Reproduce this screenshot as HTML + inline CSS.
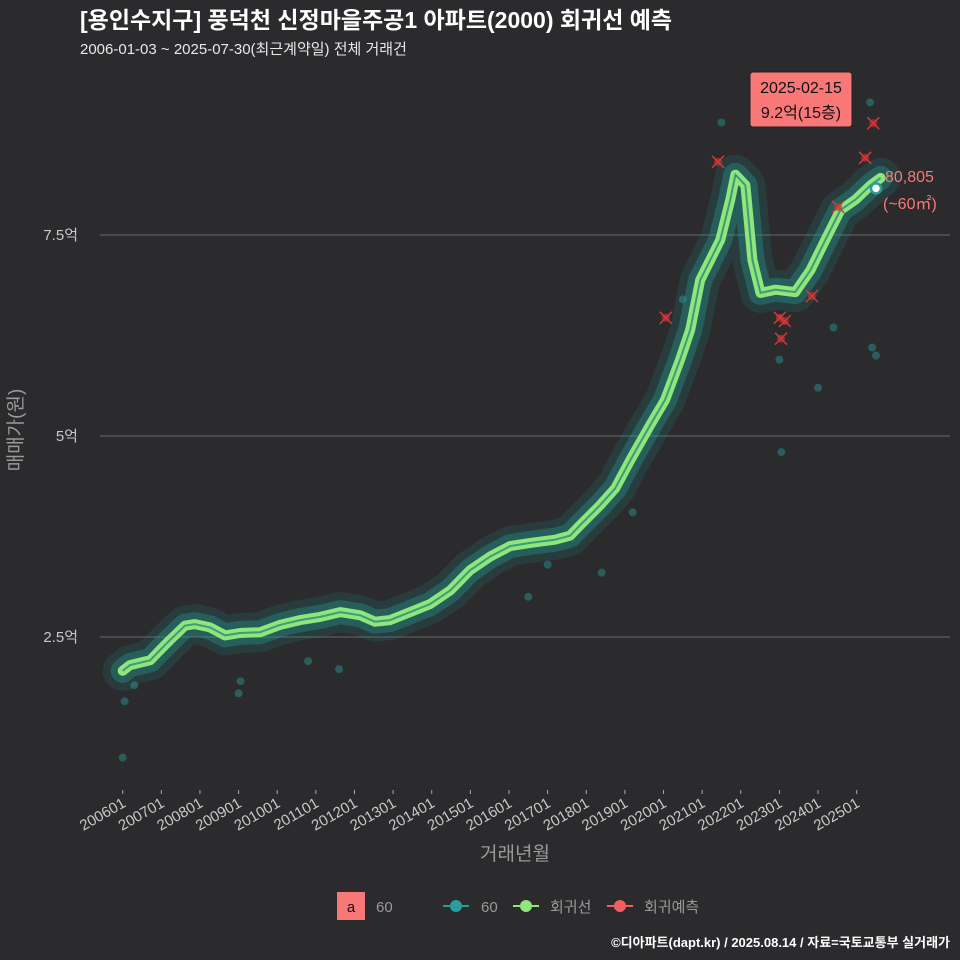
<!DOCTYPE html>
<html><head><meta charset="utf-8"><style>
html,body{margin:0;padding:0;background:#2b2a2c;overflow:hidden;}
svg{display:block;}
svg text{font-family:"Liberation Sans","Noto Sans CJK KR",sans-serif;}
</style></head><body>
<svg id="chart" width="960" height="960" viewBox="0 0 960 960">
<rect width="960" height="960" fill="#2b2a2c"/>
<text x="80" y="28" fill="#ffffff" font-size="23" font-weight="bold">[용인수지구] 풍덕천 신정마을주공1 아파트(2000) 회귀선 예측</text>
<text x="80" y="54" fill="#e8e8e8" font-size="15">2006-01-03 ~ 2025-07-30(최근계약일) 전체 거래건</text>
<g id="grid"></g><g id="axes"></g><g id="marks"></g>
<text x="515" y="860" fill="#9a9a9a" font-size="19" text-anchor="middle">거래년월</text>
<text transform="translate(22,430) rotate(-90)" fill="#9a9a9a" font-size="19" text-anchor="middle">매매가(원)</text>
<g>
<rect x="750" y="72" width="102" height="55" rx="3" fill="#f87878" stroke="#222" stroke-width="1"/>
<text x="801" y="93" font-size="16" text-anchor="middle" fill="#111">2025-02-15</text>
<text x="801" y="118" font-size="16" text-anchor="middle" fill="#111">9.2억(15층)</text>
</g>
<text x="885" y="182" fill="#f87878" font-size="16">80,805</text>
<text x="883" y="209" fill="#f87878" font-size="16">(~60㎡)</text>
<g>
<rect x="337" y="892" width="28" height="28" fill="#f87878"/>
<text x="351" y="912" font-size="15" text-anchor="middle" fill="#111">a</text>
<text x="376" y="912" font-size="15" fill="#9a9a9a">60</text>
<line x1="443" y1="906" x2="469" y2="906" stroke="#2a9d9a" stroke-width="2"/><circle cx="456" cy="906" r="6" fill="#2a9d9a"/>
<text x="481" y="912" font-size="15" fill="#9a9a9a">60</text>
<line x1="513" y1="906" x2="539" y2="906" stroke="#8fe67a" stroke-width="2"/><circle cx="526" cy="906" r="6" fill="#8fe67a"/>
<text x="550" y="912" font-size="15" fill="#9a9a9a">회귀선</text>
<line x1="607" y1="906" x2="633" y2="906" stroke="#f06060" stroke-width="2"/><circle cx="620" cy="906" r="6" fill="#f06060"/>
<text x="644" y="912" font-size="15" fill="#9a9a9a">회귀예측</text>
</g>
<text x="950" y="947" fill="#ffffff" font-size="13" font-weight="bold" text-anchor="end">©디아파트(dapt.kr) / 2025.08.14 / 자료=국토교통부 실거래가</text>
</svg>
<script>
const regT=[2006.0,2006.19,2006.71,2006.97,2007.22,2007.61,2007.87,2008.26,2008.65,2009.04,2009.56,2010.07,2010.59,2011.11,2011.63,2012.15,2012.53,2012.92,2013.44,2013.96,2014.48,2014.99,2015.51,2016.03,2016.55,2017.19,2017.58,2017.84,2018.36,2018.75,2019.14,2019.66,2020.04,2020.43,2020.69,2020.95,2021.21,2021.47,2021.73,2021.86,2022.12,2022.30,2022.51,2022.9,2023.41,2023.8,2024.19,2024.58,2024.97,2025.36,2025.62];
const regV=[2.08,2.15,2.21,2.34,2.46,2.64,2.66,2.62,2.52,2.55,2.56,2.65,2.71,2.75,2.81,2.77,2.69,2.71,2.81,2.91,3.08,3.33,3.50,3.63,3.67,3.71,3.76,3.89,4.14,4.35,4.70,5.14,5.45,5.95,6.32,6.94,7.19,7.44,7.94,8.25,8.12,7.19,6.78,6.82,6.79,7.06,7.44,7.81,7.94,8.12,8.21];
const predT=[2021.41,2020.06,2023.01,2023.14,2023.04,2023.84,2024.52,2025.22,2025.43];
const predV=[8.41,6.47,6.47,6.43,6.21,6.74,7.85,8.46,8.89];
const outT=[2006.0,2006.05,2006.3,2009.0,2009.05,2010.8,2011.6,2016.5,2017.0,2018.4,2019.2,2020.5,2021.5,2023.0,2023.05,2024.0,2024.4,2025.4,2025.5,2025.35];
const outV=[1.0,1.7,1.9,1.8,1.95,2.2,2.1,3.0,3.4,3.3,4.05,6.7,8.9,5.95,4.8,5.6,6.35,6.1,6.0,9.15];
const yTicks=[2.5,5,7.5];
const yLabels=["2.5억","5억","7.5억"];
const xTicks=["200601","200701","200801","200901","201001","201101","201201","201301","201401","201501","201601","201701","201801","201901","202001","202101","202201","202301","202401","202501"];
const latestT=2025.5, latestV=8.08;
const NS="http://www.w3.org/2000/svg";
const xs=t=>122.7+(t-2006)*38.63;
const ys=v=>838-v*80.4;
function mk(tag,attrs,parent){const e=document.createElementNS(NS,tag);for(const k in attrs)e.setAttribute(k,attrs[k]);parent.appendChild(e);return e;}
const grid=document.getElementById('grid'),axes=document.getElementById('axes'),marks=document.getElementById('marks');
yTicks.forEach((v,i)=>{
  const l=mk('line',{x1:100,x2:950,y1:ys(v),y2:ys(v),stroke:'#6a6a6a','stroke-width':1},grid);
  
  
  const t=mk('text',{x:78,y:ys(v)+5,fill:'#c8c8c8','font-size':15,'text-anchor':'end'},axes);
  t.textContent=yLabels[i];
  
  
});
xTicks.forEach((s,i)=>{
  const x=xs(2006+i);
  const tk=mk('line',{x1:x,x2:x,y1:790,y2:794,stroke:'#aaa'},axes);
  
  
  const t=mk('text',{x:0,y:0,fill:'#c8c8c8','font-size':15,'text-anchor':'end',transform:`translate(${x+4},${806}) rotate(-30)`},axes);
  t.textContent=s;
  
  
});
const d=regT.map((t,i)=>(i?'L':'M')+xs(t).toFixed(1)+','+ys(regV[i]).toFixed(1)).join('');
const band2=mk('path',{d:d,fill:'none',stroke:'#1f8f8a','stroke-width':40,'stroke-opacity':0.18,'stroke-linejoin':'round','stroke-linecap':'round'},marks);


const band=mk('path',{d:d,fill:'none',stroke:'#23908c','stroke-width':24,'stroke-opacity':0.4,'stroke-linejoin':'round','stroke-linecap':'round'},marks);


outT.forEach((t,i)=>{
  const c=mk('circle',{cx:xs(t),cy:ys(outV[i]),r:4,fill:'#2a9d9a','fill-opacity':0.45},marks);
  
  
});
const rl=mk('path',{d:d,fill:'none',stroke:'#8fe67a','stroke-width':10,'stroke-linejoin':'round','stroke-linecap':'round'},marks);


const rl2=mk('path',{d:d,fill:'none',stroke:'#3f9a7a','stroke-width':2},marks);


predT.forEach((t,i)=>{
  const x=xs(t),y=ys(predV[i]);
  const g=mk('g',{},marks);
  
  
  mk('circle',{cx:x,cy:y,r:4,fill:'#c03030','fill-opacity':0.7},g);
  mk('path',{d:`M${x-6},${y-6}L${x+6},${y+6}M${x-6},${y+6}L${x+6},${y-6}`,stroke:'#d03a3a','stroke-width':1.5},g);
});
const lp=mk('circle',{cx:xs(latestT),cy:ys(latestV),r:5,fill:'#ffffff',stroke:'#2a9d9a','stroke-width':2.5},marks);


</script>
</body></html>
